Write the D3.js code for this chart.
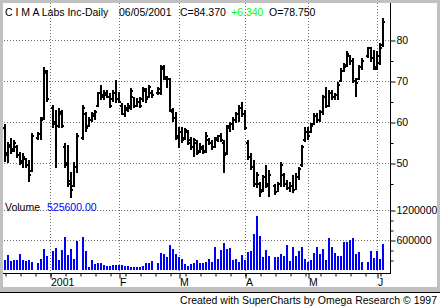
<!DOCTYPE html>
<html><head><meta charset="utf-8">
<script src="https://cdn.jsdelivr.net/npm/d3@7"></script>
<style>
body{margin:0;background:#fff}
svg{display:block}
text{font-family:"Liberation Sans",Arial,sans-serif;font-size:10.5px;fill:#000}
</style>
</head><body>
<svg id="c" width="440" height="307"></svg>
<script>
// One slot per weekday, 11 Dec 2000 .. 05 Jun 2001; null = market holiday
const highs = [59.4,55.2,56.0,55.6,54.4,52.8,52.4,51.1,50.7,57.2,null,57.6,61.3,73.5,72.7,null,64.1,62.9,63.3,62.9,
54.8,54.4,47.9,50.3,57.2,null,64.1,62.5,61.3,62.5,62.9,67.4,69.0,67.8,67.8,67.0,67.8,70.2,67.4,64.6,
64.1,64.6,68.2,66.2,65.8,66.2,68.6,68.2,69.0,67.8,null,68.6,73.9,73.9,71.1,70.7,63.3,62.5,58.9,58.9,
58.5,58.0,56.4,56.0,55.6,54.8,54.4,57.6,56.0,55.6,56.4,56.8,57.2,55.6,59.3,60.1,61.3,62.5,64.1,65.0,
62.9,55.6,52.4,50.7,47.9,45.4,47.1,49.5,48.3,null,45.0,45.4,50.3,47.5,45.9,45.4,47.1,47.5,49.1,54.4,
58.9,58.9,59.7,62.1,62.1,62.9,66.6,68.6,67.8,67.8,67.0,69.8,73.1,74.3,77.2,76.3,75.5,70.7,73.9,75.5,
null,78.4,78.4,77.6,77.2,79.3,85.4];
const lows = [50.3,49.9,52.2,52.8,51.1,49.5,48.9,48.9,45.4,47.9,null,55.6,55.6,60.5,65.0,null,58.5,48.7,58.5,58.5,
48.7,44.2,41.4,44.2,47.5,null,55.6,57.6,58.9,60.1,60.5,63.7,65.4,65.4,65.8,63.3,65.0,64.6,64.6,61.7,
61.3,62.5,62.9,63.3,63.7,63.3,65.0,64.6,65.8,65.8,null,66.6,66.6,70.2,68.2,62.5,60.1,55.6,53.6,54.8,
55.6,54.4,53.2,51.5,52.0,52.4,52.2,52.4,54.4,53.2,53.6,55.2,55.2,47.6,52.0,57.6,58.0,59.7,60.1,61.3,
58.0,50.7,48.3,44.2,43.8,41.8,43.0,43.8,41.8,null,42.2,43.0,44.2,44.2,43.4,43.0,42.6,43.4,45.9,49.1,
55.2,55.6,57.2,59.3,59.7,60.1,61.7,63.3,63.7,65.4,65.4,65.4,69.8,72.3,73.5,73.9,69.4,66.2,70.2,72.7,
null,75.5,74.7,72.7,72.7,74.0,78.4];
const opens = [58.5,52.5,54.0,53.5,54.0,52.0,50.5,51.0,49.5,48.0,null,56.0,57.0,61.0,72.0,null,63.5,60.0,59.0,62.0,
54.0,50.0,45.5,44.5,49.0,null,56.0,62.0,59.0,60.5,61.5,64.0,67.0,66.0,66.5,66.0,65.5,67.0,65.5,64.0,
62.0,63.0,63.5,66.0,64.0,65.0,65.5,67.5,66.0,67.0,null,67.0,67.0,73.5,70.5,70.5,62.5,61.0,56.5,57.5,
56.0,57.5,55.5,54.0,55.0,53.0,53.5,53.0,55.5,55.0,54.0,55.5,56.5,55.0,52.5,58.5,59.5,60.5,62.0,63.5,
62.0,55.0,51.5,49.0,45.0,45.0,43.5,46.5,45.0,null,44.5,43.0,45.0,47.0,45.0,44.0,44.5,43.5,46.5,49.5,
55.5,57.5,57.5,59.5,61.5,60.5,62.5,66.0,64.0,67.0,66.0,66.5,70.0,72.5,74.0,76.0,75.0,70.0,70.5,73.5,
null,76.0,78.0,75.5,73.0,74.5,78.75];
const closes = [52.0,54.5,53.0,55.0,52.0,50.0,51.5,49.5,47.0,56.5,null,57.0,60.5,72.5,65.5,null,59.5,59.0,62.5,59.0,
49.5,45.0,43.5,49.0,56.5,null,63.5,58.5,60.5,62.0,62.5,67.0,66.5,67.0,66.0,64.0,67.0,65.5,65.0,62.0,
63.5,63.8,67.5,64.0,65.0,64.0,68.0,65.5,68.5,66.5,null,68.0,73.0,71.0,70.5,63.0,61.0,56.0,57.5,55.5,
58.0,55.0,54.0,55.5,52.5,54.0,52.8,56.5,55.0,54.0,56.0,56.5,55.5,52.0,59.0,59.5,60.5,62.0,63.5,62.0,
58.5,51.5,49.0,45.0,47.0,43.0,46.5,44.5,47.0,null,43.0,45.0,49.5,45.0,44.0,44.5,43.5,46.5,48.5,54.0,
57.5,56.5,59.0,61.5,60.5,62.5,66.0,64.0,67.0,66.0,66.5,69.0,72.5,73.5,76.5,75.0,70.0,69.5,73.5,75.0,
null,78.0,75.5,73.5,76.0,78.03,84.37];
const volumes = [196000,293000,183000,196000,196000,313000,209000,183000,196000,170000,null,143000,215000,411000,274000,null,372000,443000,196000,391000,
665000,293000,424000,228000,587000,null,665000,372000,52000,196000,130000,143000,143000,91000,78000,78000,104000,91000,91000,98000,
78000,78000,52000,52000,65000,65000,78000,143000,143000,176000,null,143000,339000,313000,261000,509000,424000,326000,261000,228000,
117000,78000,117000,143000,196000,143000,143000,163000,228000,163000,470000,228000,391000,535000,417000,437000,196000,215000,163000,293000,
196000,359000,378000,730000,1076000,672000,261000,391000,274000,null,261000,261000,313000,274000,509000,183000,470000,280000,372000,470000,
228000,163000,196000,339000,457000,326000,411000,196000,633000,457000,346000,280000,280000,567000,554000,607000,639000,326000,359000,163000,
null,163000,372000,241000,372000,215000,525600];

const monthLabels = ["2001","F","M","A","M","J"];
const monthSlots = [15,38,58,80,101,124];
const weekSlots = [0,5,10,15,20,25,30,35,40,45,50,55,60,65,70,75,80,85,90,95,100,105,110,115,120,125];
const priceTicks = [50,60,70,80];
const priceMinor = [45,55,65,75];
const volTicks = [600000,1200000];
const volMinor = [200000,400000,800000,1000000];

const svg = d3.select("#c");
const x = d3.scaleLinear().domain([0,126]).range([5,383]);
const y = d3.scaleLinear().domain([50,80]).range([163,40]);
const yv = d3.scaleLinear().domain([0,1200000]).range([270,210]);
const AX = 390, BY = 273;

// frame
svg.append("rect").attr("x",0).attr("y",0).attr("width",440).attr("height",292).attr("fill","#c0c0c0");
svg.append("rect").attr("x",3).attr("y",3).attr("width",434).attr("height",284).attr("fill","#fff");
svg.append("rect").attr("x",0).attr("y",292).attr("width",440).attr("height",1).attr("fill","#000");

// gridlines
const grid = svg.append("g").attr("stroke","#707070").attr("stroke-width",1).attr("stroke-dasharray","1,2");
grid.selectAll("line.v").data(monthSlots).join("line").attr("class","v")
  .attr("x1",d=>Math.round(x(d))+0.5).attr("x2",d=>Math.round(x(d))+0.5).attr("y1",3).attr("y2",BY);
grid.selectAll("line.p").data(priceTicks).join("line").attr("class","p")
  .attr("x1",4).attr("x2",AX).attr("y1",d=>Math.round(y(d))+0.5).attr("y2",d=>Math.round(y(d))+0.5);
grid.selectAll("line.q").data(volTicks).join("line").attr("class","q")
  .attr("x1",4).attr("x2",AX).attr("y1",d=>Math.round(yv(d))+0.5).attr("y2",d=>Math.round(yv(d))+0.5);

// price bars
const bars = highs.map((h,i)=>({i,h,l:lows[i],o:opens[i],c:closes[i]})).filter(d=>d.h!=null);
const pb = svg.append("g").attr("fill","#000");
pb.selectAll("rect.hl").data(bars).join("rect").attr("class","hl")
  .attr("x",d=>Math.round(x(d.i))-1).attr("width",2)
  .attr("y",d=>Math.round(y(d.h))).attr("height",d=>Math.max(2,Math.round(y(d.l))-Math.round(y(d.h))));
pb.selectAll("rect.o").data(bars).join("rect").attr("class","o")
  .attr("x",d=>Math.round(x(d.i))-2).attr("width",1)
  .attr("y",d=>Math.round(y(d.o))-1).attr("height",2);
pb.selectAll("rect.c").data(bars).join("rect").attr("class","c")
  .attr("x",d=>Math.round(x(d.i))+1).attr("width",1)
  .attr("y",d=>Math.round(y(d.c))-1).attr("height",2);

// volume bars
const vb = volumes.map((v,i)=>({i,v})).filter(d=>d.v!=null);
svg.append("g").attr("fill","#0000ff").selectAll("rect").data(vb).join("rect")
  .attr("x",d=>Math.round(x(d.i))-1).attr("width",2)
  .attr("y",d=>Math.round(yv(d.v))).attr("height",d=>270-Math.round(yv(d.v)));

// axes lines
svg.append("rect").attr("x",AX).attr("y",3).attr("width",1).attr("height",BY-3+1).attr("fill","#000");
svg.append("rect").attr("x",3).attr("y",BY).attr("width",AX-3).attr("height",1).attr("fill","#000");

function styleAxis(g){ g.select(".domain").remove(); g.attr("font-family",null).attr("font-size",null); }

// right axis - price
svg.append("g").attr("transform",`translate(${AX+0.5},0.5)`)
  .call(d3.axisRight(y).tickValues(priceTicks).tickSize(5).tickPadding(1).tickFormat(d3.format("d")))
  .call(styleAxis);
svg.append("g").attr("transform",`translate(${AX+0.5},0.5)`)
  .call(d3.axisRight(y).tickValues(priceMinor).tickSize(3).tickFormat(""))
  .call(styleAxis);
// right axis - volume
svg.append("g").attr("transform",`translate(${AX+0.5},0.5)`)
  .call(d3.axisRight(yv).tickValues(volTicks).tickSize(5).tickPadding(1).tickFormat(d3.format("d")))
  .call(styleAxis);
svg.append("g").attr("transform",`translate(${AX+0.5},0.5)`)
  .call(d3.axisRight(yv).tickValues(volMinor).tickSize(3).tickFormat(""))
  .call(styleAxis);

// bottom axis
const xr = d=>Math.round(x(d));
svg.append("g").attr("transform",`translate(0.5,${BY+0.5})`)
  .call(d3.axisBottom(d3.scaleIdentity()).tickValues(weekSlots.map(xr)).tickSize(3).tickFormat(""))
  .call(styleAxis);
const mAxis = svg.append("g").attr("transform",`translate(0.5,${BY+0.5})`)
  .call(d3.axisBottom(d3.scaleIdentity()).tickValues(monthSlots.map(xr)).tickSize(5).tickPadding(1)
    .tickFormat((d,i)=>monthLabels[i]))
  .call(styleAxis);
mAxis.selectAll("text").attr("text-anchor","start").attr("dx",0).attr("dy",0).attr("y",12);

// header
const hdr = svg.append("g");
hdr.append("text").attr("x",5).attr("y",16).text("C I M A Labs Inc-Daily");
hdr.append("text").attr("x",119).attr("y",16).text("06/05/2001");
hdr.append("text").attr("x",180).attr("y",16).text("C=84.370");
hdr.append("text").attr("x",231).attr("y",16).style("fill","#00ff00").text("+6.340");
hdr.append("text").attr("x",269).attr("y",16).text("O=78.750");

svg.append("text").attr("x",5).attr("y",211).text("Volume");
svg.append("text").attr("x",47).attr("y",211).style("fill","#0000ff").text("525600.00");

// cover right overflow with frame
svg.append("rect").attr("x",437).attr("y",0).attr("width",3).attr("height",292).attr("fill","#c0c0c0");

svg.append("text").attr("x",437).attr("y",304).attr("text-anchor","end")
  .text("Created with SuperCharts by Omega Research \u00a9 1997");
</script>
</body></html>
